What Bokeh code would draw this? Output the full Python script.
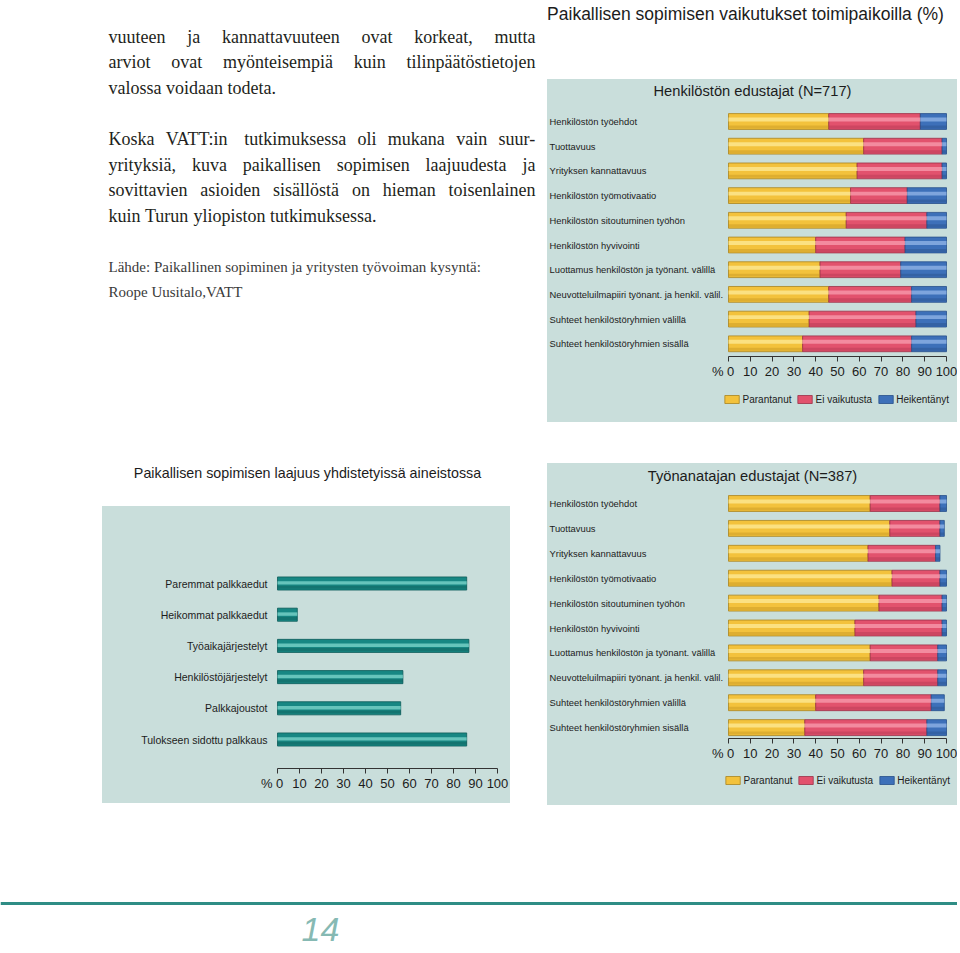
from bokeh.plotting import figure
from bokeh.models import (Range1d, FixedTicker, LinearAxis, Legend, LegendItem,
                          ColumnDataSource, Spacer)
from bokeh.layouts import row, column
from bokeh.transform import dodge
from bokeh.core.properties import value
from bokeh.embed import file_html
from bokeh.resources import INLINE

# ---------------- data ----------------
vaikutus_kohteet = [
    "Henkilöstön työehdot",
    "Tuottavuus",
    "Yrityksen kannattavuus",
    "Henkilöstön työmotivaatio",
    "Henkilöstön sitoutuminen työhön",
    "Henkilöstön hyvivointi",
    "Luottamus henkilöstön ja työnant. välillä",
    "Neuvotteluilmapiiri työnant. ja henkil. välil.",
    "Suhteet henkilöstöryhmien välillä",
    "Suhteet henkilöstöryhmien sisällä",
]
henkilosto_parantanut = [46, 62, 59, 56, 54, 40, 42, 46, 37, 34]
henkilosto_ei_vaikutusta = [42, 36, 39, 26, 37, 41, 37, 38, 49, 50]
henkilosto_heikentanyt = [12, 2, 2, 18, 9, 19, 21, 16, 14, 16]

tyonantaja_parantanut = [65, 74, 64, 75, 69, 58, 65, 62, 40, 35]
tyonantaja_ei_vaikutusta = [32, 23, 31, 22, 29, 40, 31, 34, 53, 56]
tyonantaja_heikentanyt = [3, 2, 2, 3, 2, 2, 4, 4, 6, 9]

laajuus_kohteet = [
    "Paremmat palkkaedut",
    "Heikommat palkkaedut",
    "Työaikajärjestelyt",
    "Henkilöstöjärjestelyt",
    "Palkkajoustot",
    "Tulokseen sidottu palkkaus",
]
laajuus_osuus = [86, 9, 87, 57, 56, 86]

sarjat = ["Parantanut", "Ei vaikutusta", "Heikentänyt"]
x_ticks = [0, 10, 20, 30, 40, 50, 60, 70, 80, 90, 100]
prosentti = "%"

kappale1 = [
    "vuuteen ja kannattavuuteen ovat korkeat, mutta",
    "arviot ovat myönteisempiä kuin tilinpäätöstietojen",
    "valossa voidaan todeta.",
]
kappale2 = [
    "Koska VATT:in tutkimuksessa oli mukana vain suur-",
    "yrityksiä, kuva paikallisen sopimisen laajuudesta ja",
    "sovittavien asioiden sisällöstä on hieman toisenlainen",
    "kuin Turun yliopiston tutkimuksessa.",
]
lahde = [
    "Lähde: Paikallinen sopiminen ja yritysten työvoiman kysyntä:",
    "Roope Uusitalo,VATT",
]
otsikko_vaikutukset = "Paikallisen sopimisen vaikutukset toimipaikoilla (%)"
otsikko_henkilosto = "Henkilöstön edustajat (N=717)"
otsikko_tyonantaja = "Työnanatajan edustajat (N=387)"
otsikko_laajuus = "Paikallisen sopimisen laajuus yhdistetyissä aineistossa"
sivunumero = "14"

# ---------------- style ----------------
PANEL = "#c9dedb"
SANS = "Liberation Sans"
SERIF = "Liberation Serif"
TXT = "#1c1c1c"
FILL = ["#f3c23c", "#e2526d", "#3d70b9"]
LIGHT = ["#fde993", "#f79aab", "#8fb3e6"]
DARK = ["#b8891a", "#a7304a", "#24497f"]
EDGE = ["#a98420", "#9a3048", "#274f8a"]
NB = "\u00a0"

TIMES_W = {' ': 250, 'a': 444, 'b': 500, 'c': 444, 'd': 500, 'e': 444, 'f': 333, 'g': 500,
           'h': 500, 'i': 278, 'j': 278, 'k': 500, 'l': 278, 'm': 778, 'n': 500, 'o': 500,
           'p': 500, 'q': 500, 'r': 333, 's': 389, 't': 278, 'u': 500, 'v': 500, 'w': 722,
           'x': 500, 'y': 500, 'z': 444, 'ä': 444, 'ö': 500, ',': 250, '.': 250, ':': 278,
           '-': 333, 'K': 722, 'V': 722, 'A': 722, 'T': 611}


def word_width(w, size):
    return sum(TIMES_W.get(c, 500) for c in w) * size / 1000.0


def panel_fig(w, h, xr, yr, bottom=0):
    p = figure(width=w, height=h, x_range=xr, y_range=yr,
               toolbar_location=None, output_backend="svg",
               x_axis_location=None, y_axis_location=None,
               min_border=0, min_border_left=0, min_border_right=0,
               min_border_top=0, min_border_bottom=bottom,
               background_fill_color=PANEL, border_fill_color=PANEL,
               outline_line_color=None, styles={"background-color": PANEL})
    p.grid.grid_line_color = None
    return p


def plain_fig(w, h):
    p = figure(width=w, height=h, x_range=Range1d(0, w), y_range=Range1d(h, 0),
               toolbar_location=None, output_backend="svg",
               x_axis_location=None, y_axis_location=None,
               min_border=0, min_border_left=0, min_border_right=0,
               min_border_top=0, min_border_bottom=0,
               background_fill_color="white", border_fill_color="white",
               outline_line_color=None)
    p.grid.grid_line_color = None
    return p


def axis_below(p):
    zero_label = prosentti + NB + str(x_ticks[0]) + NB * 3
    ax = LinearAxis(ticker=FixedTicker(ticks=x_ticks), bounds=(0, 100),
                    major_tick_in=0, major_tick_out=5, minor_tick_line_color=None,
                    major_label_standoff=2, major_label_text_font=SANS,
                    major_label_text_font_size="13px", major_label_text_color=TXT,
                    major_label_overrides={0: zero_label},
                    axis_line_color="#333333", major_tick_line_color="#333333")
    p.add_layout(ax, "below")


def legend_fig(W, H, top_margin):
    lf = panel_fig(W, H, Range1d(0, 1), Range1d(0, 1))
    items = []
    for i, name in enumerate(sarjat):
        # legend proxy: a single mark placed outside the visible range
        r = lf.hbar(y=[-5], left=[0], right=[1], height=1, fill_color=FILL[i],
                    line_color=EDGE[i], line_width=0.8)
        items.append(LegendItem(label=name, renderers=[r]))
    leg = Legend(items=items, orientation="horizontal", location="top_right",
                 glyph_width=18, glyph_height=10, label_standoff=2, spacing=4,
                 padding=0, margin=top_margin, label_height=12, border_line_color=None,
                 background_fill_alpha=0, label_text_font=SANS,
                 label_text_font_size="10px", label_text_color=TXT)
    lf.add_layout(leg)
    return lf


def stacked_chart(title, par, ei, heik, W, H, row0, step, fb, title_y):
    xpx0, xpx100 = 181, 399
    s = (xpx100 - xpx0) / 100.0
    xs = -xpx0 / s
    xe = xs + W / s
    yb = (fb - row0) / step
    yt = -row0 / step
    p = panel_fig(W, H, Range1d(xs, xe), Range1d(yb, yt), bottom=H - fb)
    src = ColumnDataSource(dict(y=list(range(len(vaikutus_kohteet))), label=vaikutus_kohteet,
                                par=par, ei=ei, heik=heik))
    keys = ["par", "ei", "heik"]
    p.hbar_stack(keys, y="y", height=0.64, source=src, fill_color=FILL,
                 line_color=EDGE, line_width=0.8)
    p.hbar_stack(keys, y=dodge("y", 0.22), height=0.12, source=src, fill_color=DARK,
                 fill_alpha=0.35, line_color=None)
    p.hbar_stack(keys, y=dodge("y", -0.08), height=0.16, source=src, fill_color=LIGHT,
                 fill_alpha=0.8, line_color=None)
    p.text(x=xs + 2 / s, y="y", text="label", source=src, text_font=value(SANS),
           text_font_size="9.4px", text_align="left", text_baseline="middle", text_color=TXT)
    p.text(x=[xs + 205 / s], y=[(title_y - row0) / step], text=[title],
           text_font=value(SANS), text_font_size="14.7px", text_align="center",
           text_baseline="middle", text_color=TXT)
    axis_below(p)
    return p


# ---------------- left text ----------------
tf = plain_fig(547, 448)
wx, wy, wt = [], [], []
size = 18.0
x_left, x_right = 108.0, 535.0


def add_par(lines, baselines):
    for k, (line, yb) in enumerate(zip(lines, baselines)):
        words = line.split(" ")
        if k == len(lines) - 1:
            x = x_left
            for w in words:
                wx.append(x); wy.append(yb); wt.append(w)
                x += word_width(w, size) + word_width(" ", size)
        else:
            total = sum(word_width(w, size) for w in words)
            gap = (x_right - x_left - total) / (len(words) - 1)
            x = x_left
            for w in words:
                wx.append(x); wy.append(yb); wt.append(w)
                x += word_width(w, size) + gap


add_par(kappale1, [36.7, 61.7, 87.0])
add_par(kappale2, [138.3, 164.3, 189.0, 215.0])
tf.text(x=wx, y=wy, text=wt, text_font=value(SERIF), text_font_size="18px",
        text_align="left", text_baseline="alphabetic", text_color="#231f20")
tf.text(x=[108, 108], y=[266.7, 291.0], text=lahde, text_font=value(SERIF),
        text_font_size="15px", text_align="left", text_baseline="alphabetic",
        text_color="#3a3a3a")

# ---------------- titles ----------------
t1 = plain_fig(410, 79)
t1.text(x=[198], y=[13], text=[otsikko_vaikutukset], text_font=value(SANS),
        text_font_size="17.5px", text_align="center", text_baseline="middle", text_color=TXT)

t3 = plain_fig(547, 58)
t3.text(x=[307], y=[24], text=[otsikko_laajuus], text_font=value(SANS),
        text_font_size="14.3px", text_align="center", text_baseline="middle", text_color=TXT)

# ---------------- stacked charts ----------------
c1 = stacked_chart(otsikko_henkilosto, henkilosto_parantanut, henkilosto_ei_vaikutusta,
                   henkilosto_heikentanyt, 410, 306, 42, 24.7, 277, 11)
l1 = legend_fig(410, 37, 8)
c2 = stacked_chart(otsikko_tyonantaja, tyonantaja_parantanut, tyonantaja_ei_vaikutusta,
                   tyonantaja_heikentanyt, 410, 304, 40, 24.9, 275, 12)
l2 = legend_fig(410, 38, 7)

# ---------------- single bar chart ----------------
W3, H3 = 408, 297
row0, step, fb = 77, 31.2, 262
xpx0, xpx100 = 175, 395
s3 = (xpx100 - xpx0) / 100.0
xs3 = -xpx0 / s3
xe3 = xs3 + W3 / s3
yb3 = (fb - row0) / step
yt3 = -row0 / step
c3 = panel_fig(W3, H3, Range1d(xs3, xe3), Range1d(yb3, yt3), bottom=H3 - fb)
src3 = ColumnDataSource(dict(y=list(range(len(laajuus_kohteet))), label=laajuus_kohteet,
                             v=laajuus_osuus))
c3.hbar(y="y", left=0, right="v", height=0.42, source=src3, fill_color="#178783",
        line_color="#0c5c59", line_width=0.8)
c3.hbar(y=dodge("y", 0.12), left=0, right="v", height=0.1, source=src3,
        fill_color="#0b4f4d", fill_alpha=0.35, line_color=None)
c3.hbar(y=dodge("y", -0.02), left=0, right="v", height=0.11, source=src3,
        fill_color="#74cfc5", fill_alpha=0.85, line_color=None)
c3.text(x=xs3 + 165 / s3, y="y", text="label", source=src3, text_font=value(SANS),
        text_font_size="10.5px", text_align="right", text_baseline="middle", text_color=TXT)
axis_below(c3)

# ---------------- footer ----------------
ft = plain_fig(957, 145)
ft.line(x=[0, 957], y=[98, 98], line_color="#2f8d85", line_width=3)
ft.text(x=[320], y=[124], text=[sivunumero], text_font=value(SANS),
        text_font_size="34px", text_font_style="italic", text_align="center",
        text_baseline="middle", text_color="#86b9b3")

# ---------------- layout ----------------
colA = column(tf, t3, row(Spacer(width=102, height=H3), c3, Spacer(width=37, height=H3)))
colB = column(t1, c1, l1, Spacer(width=410, height=41), c2, l2)
page = column(row(colA, colB), ft)

open("out.html", "w").write(file_html(page, INLINE))
